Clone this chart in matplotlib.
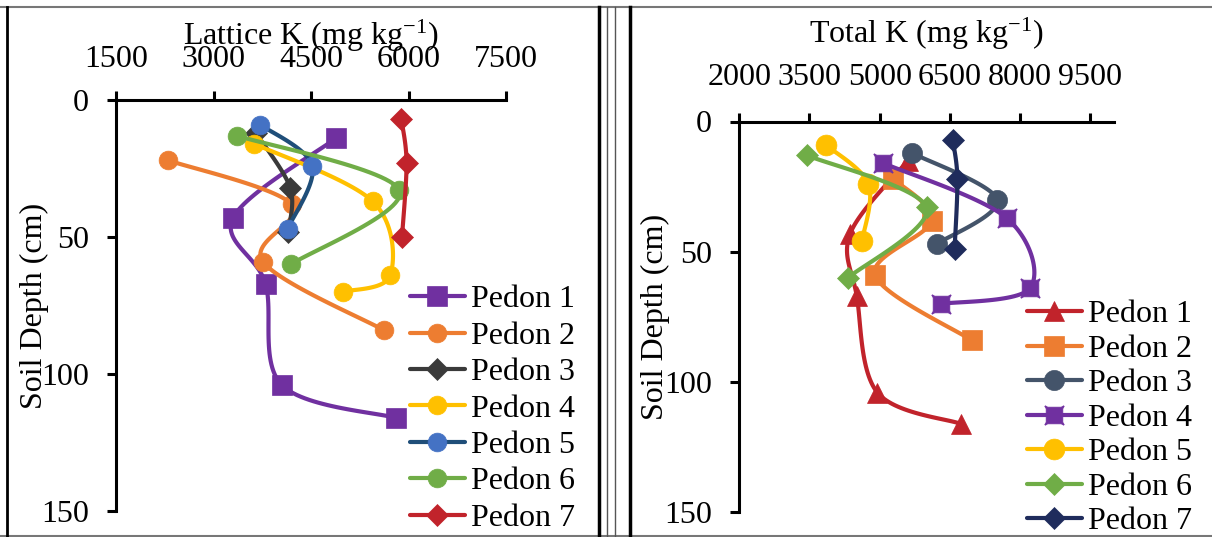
import numpy as np
import matplotlib
matplotlib.use('Agg')
import matplotlib.pyplot as plt
from matplotlib.lines import Line2D
from matplotlib.path import Path

plt.rcParams['font.family'] = ['Liberation Serif', 'DejaVu Serif']
plt.rcParams['mathtext.fontset'] = 'custom'
plt.rcParams['mathtext.rm'] = 'Liberation Serif'
plt.rcParams['mathtext.it'] = 'Liberation Serif:italic'
plt.rcParams['mathtext.bf'] = 'Liberation Serif:bold'

# ---- data: left panel (Lattice K) ----
lat_labels = ['Pedon 1', 'Pedon 2', 'Pedon 3', 'Pedon 4', 'Pedon 5', 'Pedon 6', 'Pedon 7']
lat_depth = [
    [14, 43, 67, 104, 116],
    [22, 38, 59, 84],
    [12, 32, 48],
    [16, 37, 64, 70],
    [9, 24, 47],
    [13, 33, 60],
    [7, 23, 50],
]
lat_k = [
    [4880, 3300, 3800, 4050, 5800],
    [2300, 4200, 3760, 5620],
    [3650, 4180, 4150],
    [3630, 5450, 5720, 4990],
    [3720, 4520, 4140],
    [3360, 5860, 4190],
    [5890, 5970, 5900],
]
lat_ticks = [1500, 3000, 4500, 6000, 7500]

# ---- data: right panel (Total K) ----
tot_labels = ['Pedon 1', 'Pedon 2', 'Pedon 3', 'Pedon 4', 'Pedon 5', 'Pedon 6', 'Pedon 7']
tot_depth = [
    [15, 43, 67, 104, 116],
    [22, 38, 59, 84],
    [12, 30, 47],
    [16, 37, 64, 70],
    [9, 24, 46],
    [13, 33, 60],
    [7, 22, 49],
]
tot_k = [
    [5600, 4370, 4510, 4950, 6730],
    [5290, 6110, 4900, 6970],
    [5680, 7510, 6220],
    [5080, 7710, 8210, 6300],
    [3850, 4760, 4620],
    [3450, 6000, 4320],
    [6560, 6660, 6600],
]
tot_ticks = [2000, 3500, 5000, 6500, 8000, 9500]
depth_ticks = [0, 50, 100, 150]

# square with small ears on the corners (Excel "x in square" look)
a, e, w = 0.43, 0.5, 0.08
ear_sq = Path([(-a, a - w), (-e, e - w * .4), (-e + w * .4, e), (-a + w, a),
               (a - w, a), (e - w * .4, e), (e, e - w * .4), (a, a - w),
               (a, -a + w), (e, -e + w * .4), (e - w * .4, -e), (a - w, -a),
               (-a + w, -a), (-e + w * .4, -e), (-e, -e + w * .4), (-a, -a + w),
               (-a, a - w)], closed=True)

lat_style = [  # line colour, marker colour, marker, size
    ('#7030A0', '#7030A0', 's', 15),
    ('#ED7D31', '#ED7D31', 'o', 13.5),
    ('#3A3A3A', '#3A3A3A', 'D', 11.5),
    ('#FFC000', '#FFC000', 'o', 13.5),
    ('#1F4E79', '#4472C4', 'o', 13.5),
    ('#70AD47', '#70AD47', 'o', 13.5),
    ('#C1232B', '#C1232B', 'D', 11.5),
]
tot_style = [
    ('#C1232B', '#C1232B', '^', 14.5),
    ('#ED7D31', '#ED7D31', 's', 15),
    ('#44546A', '#44546A', 'o', 14.5),
    ('#7030A0', '#7030A0', ear_sq, 14),
    ('#FFC000', '#FFC000', 'o', 15),
    ('#70AD47', '#70AD47', 'D', 11),
    ('#1F2C5C', '#1F2C5C', 'D', 11.5),
]

W, H = 1212, 537
fig = plt.figure(figsize=(W / 100, H / 100), dpi=100)


def box(x0, y0, x1, y1):
    # pixel -> figure fraction
    return [x0 / W, 1 - y1 / H, (x1 - x0) / W, (y1 - y0) / H]


def smooth(ax, xs, ys, n=30):
    # Excel-like smoothed line (Catmull-Rom bezier in screen space)
    p = ax.transData.transform(np.column_stack([xs, ys]))
    m = len(p)
    out = [p[0]]
    t = np.linspace(0, 1, n)[1:, None]
    for i in range(m - 1):
        p0, p1, p2, p3 = p[max(i - 1, 0)], p[i], p[i + 1], p[min(i + 2, m - 1)]
        c1 = p1 + (p2 - p0) / 6
        c2 = p2 - (p3 - p1) / 6
        seg = (1 - t) ** 3 * p1 + 3 * (1 - t) ** 2 * t * c1 + 3 * (1 - t) * t ** 2 * c2 + t ** 3 * p2
        out.extend(seg)
    q = ax.transData.inverted().transform(np.array(out))
    return q[:, 0], q[:, 1], [i * (n - 1) for i in range(m)]


def panel(rect, xmax, ticks, title, title_y, xpad, ylab_x, labels, xs_all, ds_all, styles,
          leg_xy, leg_sp):
    ax = fig.add_axes(rect)
    ax.set_xlim(ticks[0], xmax)
    ax.set_ylim(150, 0)
    ax.set_xticks(ticks)
    ax.set_yticks(depth_ticks)
    for s in ['right', 'bottom']:
        ax.spines[s].set_visible(False)
    for s in ['top', 'left']:
        ax.spines[s].set_linewidth(2.2)
    ax.xaxis.tick_top()
    ax.tick_params(axis='x', direction='out', length=6.5, width=2.2, labelsize=23, pad=xpad)
    ax.tick_params(axis='y', direction='out', length=6.5, width=2.2, labelsize=23, pad=13)
    ax.xaxis.set_label_position('top')
    ax.set_xlabel(title, fontsize=23)
    ax.xaxis.set_label_coords(0.5, title_y)
    ax.set_ylabel('Soil Depth (cm)', fontsize=23)
    ax.yaxis.label.set_va('center')
    ax.yaxis.set_label_coords(ylab_x, 0.5)

    for lab, xs, ds, (lc, mc, mk, ms) in zip(labels, xs_all, ds_all, styles):
        cx, cy, idx = smooth(ax, xs, ds)
        ax.plot(cx, cy, color=lc, lw=3, marker=mk, ms=ms, markevery=idx,
                mfc=mc, mec=mc, mew=0.5, label=lab, solid_capstyle='round')

    ax.legend(loc='upper left', bbox_to_anchor=leg_xy, bbox_transform=fig.transFigure,
              frameon=False, fontsize=23, borderpad=0, borderaxespad=0,
              handlelength=1.72, handletextpad=0.2, labelspacing=leg_sp, numpoints=1)
    return ax


panel(box(116, 100, 506, 511), 7500, lat_ticks, r'Lattice K (mg kg$^{-1}$)', 1.135, 12.5,
      -0.208, lat_labels, lat_k, lat_depth, lat_style, (410 / W, 1 - 285 / H), 0.22)
panel(box(739.3, 121.5, 1113.7, 512.4), 10000, tot_ticks, r'Total K (mg kg$^{-1}$)', 1.2, 14.5,
      -0.225, tot_labels, tot_k, tot_depth, tot_style, (1027 / W, 1 - 300 / H), 0.16)

# frame lines around the two panels
def fline(x0, y0, x1, y1, c='black', lw=2.0):
    fig.add_artist(Line2D([x0 / W, x1 / W], [1 - y0 / H, 1 - y1 / H], color=c, lw=lw,
                          transform=fig.transFigure))

fline(0, 7, W, 7, '#777777', 1.5)
fline(0, 536, W, 536, '#777777', 1.5)
fline(7, 7, 7, 536)
fline(599, 7, 599, 536, lw=2.5)
fline(607, 7, 607, 536, '#555555', 1.0)
fline(615, 7, 615, 536, '#555555', 1.0)
fline(630, 7, 630, 536, lw=2.5)

fig.savefig('out.png', dpi=100)
